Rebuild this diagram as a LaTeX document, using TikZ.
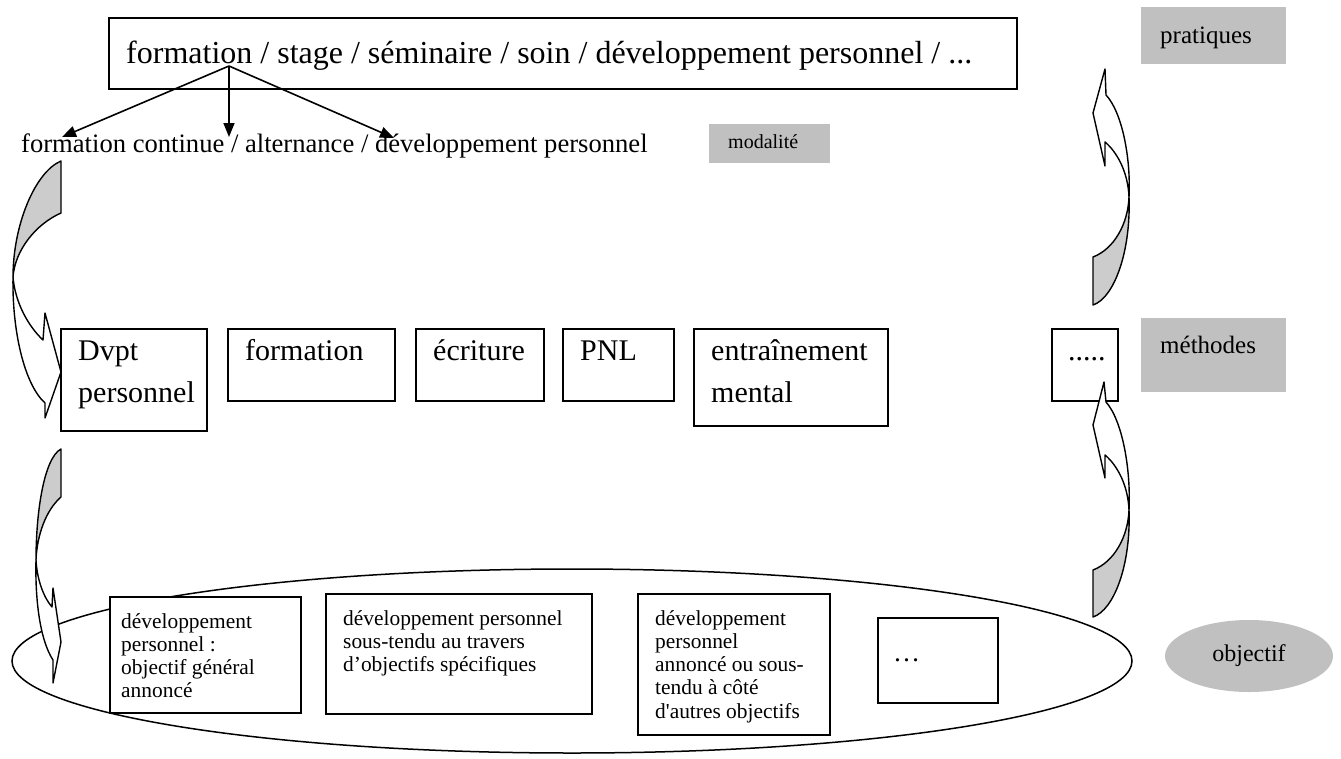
\documentclass[tikz,border=0pt]{standalone}
\usepackage{fontspec}
\setmainfont{Liberation Serif}[Ligatures=TeXOff]
\usetikzlibrary{arrows.meta,shapes.geometric}
\definecolor{lblgray}{RGB}{192,192,192}
\definecolor{arrgray}{RGB}{204,204,204}
\begin{document}
\begin{tikzpicture}[x=1pt,y=-1pt,
  box/.style={draw, line width=1.6pt, anchor=north west, inner sep=0pt},
  graybox/.style={fill=lblgray, anchor=north west, inner sep=0pt},
  txt/.style={anchor=base west, inner sep=0pt},
  methfont/.style={font=\fontsize{30}{42}\selectfont},
  objfont/.style={font=\fontsize{21.4}{23.3}\selectfont},
  band/.style={draw, line width=1.4pt, line join=round},
  treearrow/.style={line width=1.6pt, -{Triangle[length=14pt,width=11pt]}}
]
\useasboundingbox (0,0) rectangle (1341,758);

% ---------- top: pratiques ----------
\node[box, minimum width=908pt, minimum height=71pt] (topbox) at (108,17) {};
\node[txt, font=\fontsize{32}{38}\selectfont] (toptxt) at (126,63)
  {formation / stage / séminaire / soin / développement personnel / ...};
\node[graybox, minimum width=145pt, minimum height=57pt] (pratiques) at (1141,7) {};
\node[txt, font=\fontsize{25}{30}\selectfont] (pratiquestxt) at (1160,43) {pratiques};

% ---------- modalite ----------
\node[txt, font=\fontsize{26.6}{30}\selectfont] (modtxt) at (21,152)
  {formation continue / alternance / développement personnel};
\node[graybox, minimum width=121pt, minimum height=39pt] (modalite) at (709,124) {};
\node[txt, font=\fontsize{20}{24}\selectfont] (modalitetxt) at (728,148) {modalité};

\coordinate (treeO) at (229,66);
\coordinate (treeL) at (62,137);
\coordinate (treeM) at (229,137);
\coordinate (treeR) at (394,138);
\draw[treearrow] (treeO) -- (treeL);
\draw[treearrow] (treeO) -- (treeM);
\draw[treearrow] (treeO) -- (treeR);

% ---------- methodes ----------
\node[box, minimum width=146pt, minimum height=102pt] (dvpt) at (60,328) {};
\node[txt, methfont] (dvpttxt) at (78,360)
  {\parbox[t]{140pt}{Dvpt\\personnel}};
\node[box, minimum width=167pt, minimum height=72pt] (form) at (227,328) {};
\node[txt, methfont] (formtxt) at (245,360) {formation};
\node[box, minimum width=128pt, minimum height=72pt] (ecr) at (415,328) {};
\node[txt, methfont] (ecrtxt) at (433,360) {écriture};
\node[box, minimum width=111pt, minimum height=72pt] (pnl) at (562,328) {};
\node[txt, methfont] (pnltxt) at (580,360) {PNL};
\node[box, minimum width=194pt, minimum height=97pt] (ent) at (693,328) {};
\node[txt, methfont] (enttxt) at (711,360)
  {\parbox[t]{190pt}{entraînement\\mental}};
\node[box, minimum width=66pt, minimum height=72pt] (etc) at (1051,328) {};
\node[txt, methfont] (etctxt) at (1068,360) {.....};
\node[graybox, minimum width=145pt, minimum height=74pt] (methodes) at (1141,318) {};
\node[txt, font=\fontsize{25}{30}\selectfont] (methodestxt) at (1160,353) {méthodes};

% ---------- objectifs ----------
\draw[line width=1.5pt] (572,661) ellipse [x radius=560pt, y radius=92pt];
\node[box, fill=white, minimum width=191pt, minimum height=116pt] (ob1) at (109,596) {};
\node[txt, objfont] (ob1txt) at (121,628)
  {\parbox[t]{180pt}{développement\\personnel :\\objectif général\\annoncé}};
\node[box, fill=white, minimum width=266pt, minimum height=120pt] (ob2) at (325,593) {};
\node[txt, objfont] (ob2txt) at (343,625)
  {\parbox[t]{250pt}{développement personnel\\sous-tendu au travers\\d’objectifs spécifiques}};
\node[box, fill=white, minimum width=192pt, minimum height=141pt] (ob3) at (637,593) {};
\node[txt, objfont] (ob3txt) at (655,625)
  {\parbox[t]{180pt}{développement\\personnel\\annoncé ou sous-\\tendu à côté\\d'autres objectifs}};
\node[box, fill=white, minimum width=120pt, minimum height=85pt] (ob4) at (877,617) {};
\node[txt, font=\fontsize{27}{30}\selectfont] (ob4txt) at (893,661) {…};
\node[fill=lblgray, ellipse, minimum width=168pt, minimum height=72pt, inner sep=0pt,
  font=\fontsize{24}{28}\selectfont] (objectif) at (1249,656) {objectif};

% ---------- curved block arrows ----------
% left top
\filldraw[band, fill=arrgray] (61,161) -- (61,213) .. controls (36,224) and (15,250) .. (13,277)
  .. controls (13,225) and (35,172) .. (61,161) -- cycle;
\filldraw[band, fill=white] (13,277) .. controls (15,302) and (28,326) .. (43,340) -- (45,313)
  -- (61,372) -- (45,418) -- (45,403) .. controls (24,384) and (12,330) .. (13,277) -- cycle;
% left bottom
\filldraw[band, fill=arrgray] (61,449) -- (61,497) .. controls (46,510) and (37,535) .. (36,560)
  .. controls (36,512) and (44,458) .. (61,449) -- cycle;
\filldraw[band, fill=white] (36,560) .. controls (37,580) and (44,598) .. (52,607) -- (53,588)
  -- (61,642) -- (53,683) -- (53,660) .. controls (40,640) and (35,600) .. (36,560) -- cycle;
% right bottom
\filldraw[band, fill=arrgray] (1093,617) -- (1093,570) .. controls (1114,562) and (1128,537) .. (1129,510)
  .. controls (1131,565) and (1114,610) .. (1093,617) -- cycle;
\filldraw[band, fill=white] (1129,510) .. controls (1128,485) and (1117,465) .. (1105,455) -- (1105,478)
  -- (1093,425) -- (1104,382) -- (1106,402) .. controls (1122,420) and (1131,468) .. (1129,510) -- cycle;
% right top
\filldraw[band, fill=arrgray] (1093,305) -- (1093,257) .. controls (1114,249) and (1128,224) .. (1129,197)
  .. controls (1131,252) and (1114,298) .. (1093,305) -- cycle;
\filldraw[band, fill=white] (1129,197) .. controls (1128,172) and (1117,152) .. (1105,142) -- (1105,166)
  -- (1093,113) -- (1105,69) -- (1106,95) .. controls (1122,112) and (1131,158) .. (1129,197) -- cycle;
\end{tikzpicture}
\end{document}
